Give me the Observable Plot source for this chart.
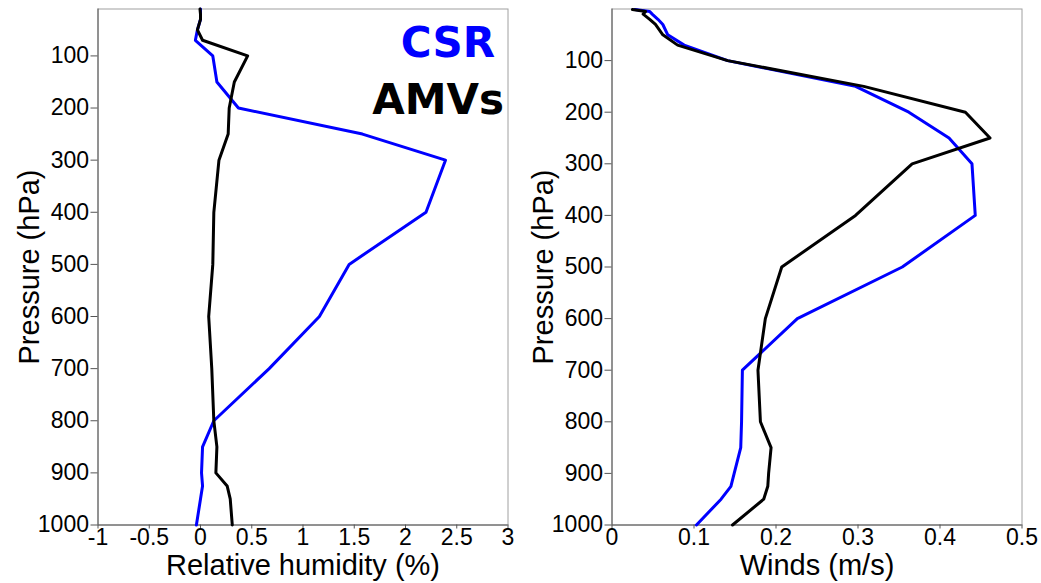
<!DOCTYPE html>
<html><head><meta charset="utf-8">
<script src="https://cdn.jsdelivr.net/npm/d3@7"></script>
<script src="https://cdn.jsdelivr.net/npm/@observablehq/plot@0.6"></script>
<style>
body{margin:0;background:#fff;}
#chart{display:flex;width:1041px;height:583px;background:#fff;}
#chart svg{display:block;}
</style></head><body><div id="chart"></div>
<script>
// Pressure levels (hPa)
const rhLevels = [10, 20, 30, 50, 70, 100, 150, 200, 250, 300, 400, 500, 600, 700, 800, 850, 900, 925, 950, 1000];
const rhCSR    = [0.0, 0.0, 0.0, -0.03, -0.05, 0.12, 0.16, 0.37, 1.58, 2.39, 2.20, 1.45, 1.16, 0.67, 0.13, 0.02, 0.01, 0.02, 0.00, -0.04];
const rhAMV    = [-0.005, 0.0, 0.0, -0.03, 0.02, 0.46, 0.33, 0.28, 0.27, 0.18, 0.13, 0.12, 0.08, 0.11, 0.13, 0.16, 0.15, 0.26, 0.29, 0.31];

const windLevels = [1, 5, 10, 20, 30, 50, 70, 100, 150, 200, 250, 300, 400, 500, 600, 700, 800, 850, 900, 925, 950, 1000];
const windCSR    = [0.028, 0.046, 0.049, 0.056, 0.062, 0.068, 0.088, 0.141, 0.297, 0.362, 0.411, 0.439, 0.443, 0.354, 0.226, 0.159, 0.158, 0.157, 0.149, 0.145, 0.133, 0.103];
const windAMV    = [0.025, 0.041, 0.038, 0.046, 0.053, 0.062, 0.080, 0.141, 0.307, 0.431, 0.461, 0.366, 0.297, 0.207, 0.187, 0.178, 0.181, 0.194, 0.191, 0.190, 0.185, 0.147];

const pressureTicks = [100, 200, 300, 400, 500, 600, 700, 800, 900, 1000];
const rhTicks = [-1, -0.5, 0, 0.5, 1, 1.5, 2, 2.5, 3];
const windTicks = [0, 0.1, 0.2, 0.3, 0.4, 0.5];
const rhDomain = [-1, 3];
const windDomain = [0, 0.5];
const rhPDomain = [10, 1000];
const windPDomain = [0, 1000];

const seriesNames = ["CSR", "AMVs"];
const seriesColors = ["#0000ff", "#000000"];

const toRows = (levels, vals) => levels.map((p, i) => ({p, v: vals[i]}));

const tickFont = "'Liberation Sans', Arial, sans-serif";
const legendFont = "'Comic Sans MS', 'DejaVu Sans', sans-serif";

function panel({width, marginLeft, marginRight, xDomain, yDomain, xTicks, xLabel, csr, amv, legend}) {
  const marks = [
    Plot.frame({stroke: "#a0a0a0"}),
    Plot.ruleX([xDomain[0]], {stroke: "#555"}),
    Plot.ruleY([yDomain[1]], {stroke: "#555"}),
    Plot.axisX({ticks: xTicks, tickFormat: String, tickSize: 4, tickPadding: 0, label: null, fontSize: 23, stroke: "#555"}),
    Plot.axisX({ticks: [], tickSize: 0, label: xLabel, labelAnchor: "center", labelOffset: 50, labelArrow: "none", fontSize: 29}),
    Plot.axisY({ticks: pressureTicks, tickFormat: String, tickSize: 7, tickPadding: 2, label: null, fontSize: 23, stroke: "#555"}),
    Plot.axisY({ticks: [], tickSize: 0, label: "Pressure (hPa)", labelAnchor: "center", labelOffset: 80, labelArrow: "none", fontSize: 29}),
    Plot.line(csr, {x: "v", y: "p", stroke: seriesColors[0], strokeWidth: 3}),
    Plot.line(amv, {x: "v", y: "p", stroke: seriesColors[1], strokeWidth: 3})
  ];
  if (legend) {
    marks.push(
      Plot.text([seriesNames[0]], {text: d => d, frameAnchor: "top-right", textAnchor: "end", lineAnchor: "top", dx: -13, dy: 18, fill: seriesColors[0], fontSize: 42, fontWeight: "bold", fontFamily: legendFont}),
      Plot.text([seriesNames[1]], {text: d => d, frameAnchor: "top-right", textAnchor: "end", lineAnchor: "top", dx: -4, dy: 75, fill: seriesColors[1], fontSize: 42, fontWeight: "bold", fontFamily: legendFont})
    );
  }
  return Plot.plot({
    width, height: 583,
    marginLeft, marginRight, marginTop: 8.5, marginBottom: 58.5,
    style: {fontFamily: tickFont, background: "#fff", color: "#000", overflow: "visible"},
    x: {domain: xDomain},
    y: {domain: yDomain, reverse: true},
    marks
  });
}

const chart = document.getElementById("chart");
chart.append(panel({
  width: 520, marginLeft: 97.5, marginRight: 12.5,
  xDomain: rhDomain, yDomain: rhPDomain, xTicks: rhTicks, xLabel: "Relative humidity (%)",
  csr: toRows(rhLevels, rhCSR), amv: toRows(rhLevels, rhAMV), legend: true
}));
chart.append(panel({
  width: 521, marginLeft: 91.5, marginRight: 19.5,
  xDomain: windDomain, yDomain: windPDomain, xTicks: windTicks, xLabel: "Winds (m/s)",
  csr: toRows(windLevels, windCSR), amv: toRows(windLevels, windAMV), legend: false
}));
</script></body></html>
